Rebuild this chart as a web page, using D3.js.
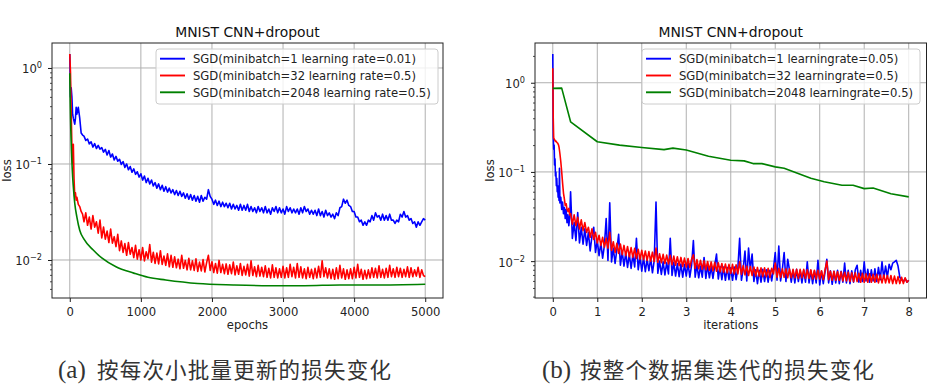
<!doctype html>
<html lang="zh">
<head>
<meta charset="utf-8">
<title>MNIST CNN+dropout loss curves</title>
<style>
  body { margin: 0; background: #fff; }
  svg { display: block; font-family: "DejaVu Sans", sans-serif; }
  .caption-tag { font-family: "Liberation Serif", serif; }
  .caption-zh { font-family: "Noto Sans CJK SC", sans-serif; }
</style>
</head>
<body>
<svg id="chart" width="934" height="391"></svg>
<script src="https://cdn.jsdelivr.net/npm/d3@7"></script>
<script>
// ---- panel (a): loss per minibatch update ----
const epochsHead = [0, 10, 20, 30, 40, 50, 60, 70, 80, 90, 100, 120, 140, 160, 180]
const epochsA = epochsHead.concat(d3.range(200, 5001, 25))

const lossA_mb1 = [
  1.4, 0.5, 0.62, 0.5, 0.33, 0.3, 0.28, 0.26, 0.3, 0.39, 0.33, 0.39, 0.3, 0.21, 0.2,
  0.195, 0.176, 0.182, 0.162, 0.170, 0.150, 0.163, 0.145, 0.156, 0.143,
  0.148, 0.133, 0.142, 0.124, 0.138, 0.118, 0.127, 0.110, 0.120, 0.107,
  0.112, 0.099, 0.106, 0.092, 0.100, 0.087, 0.094, 0.082, 0.089, 0.078,
  0.083, 0.073, 0.079, 0.068, 0.075, 0.064, 0.071, 0.062, 0.068, 0.059,
  0.064, 0.056, 0.062, 0.054, 0.060, 0.052, 0.058, 0.051, 0.056, 0.050,
  0.054, 0.048, 0.053, 0.047, 0.052, 0.046, 0.050, 0.044, 0.049, 0.043,
  0.048, 0.042, 0.047, 0.041, 0.046, 0.040, 0.047, 0.041, 0.045, 0.043,
  0.054, 0.046, 0.043, 0.038, 0.042, 0.037, 0.041, 0.036, 0.040, 0.036,
  0.039, 0.035, 0.039, 0.034, 0.038, 0.034, 0.037, 0.033, 0.038, 0.033,
  0.037, 0.033, 0.038, 0.032, 0.036, 0.032, 0.035, 0.031, 0.036, 0.032,
  0.035, 0.031, 0.036, 0.031, 0.034, 0.030, 0.035, 0.032, 0.036, 0.031,
  0.035, 0.031, 0.034, 0.030, 0.036, 0.032, 0.035, 0.031, 0.034, 0.031,
  0.034, 0.030, 0.035, 0.031, 0.036, 0.032, 0.034, 0.030, 0.033, 0.030,
  0.033, 0.029, 0.034, 0.029, 0.032, 0.028, 0.033, 0.029, 0.031, 0.028,
  0.030, 0.027, 0.031, 0.029, 0.035, 0.036, 0.043, 0.039, 0.042, 0.037,
  0.036, 0.032, 0.032, 0.028, 0.028, 0.025, 0.026, 0.023, 0.025, 0.023,
  0.026, 0.025, 0.029, 0.026, 0.031, 0.028, 0.029, 0.026, 0.030, 0.026,
  0.029, 0.026, 0.030, 0.026, 0.026, 0.024, 0.026, 0.025, 0.030, 0.028,
  0.032, 0.028, 0.029, 0.026, 0.027, 0.024, 0.025, 0.022, 0.025, 0.023,
  0.025, 0.027, 0.026
]

const lossA_mb32 = [
  1.4, 0.9, 0.35, 0.15, 0.1, 0.16, 0.07, 0.046, 0.05, 0.042, 0.045, 0.038, 0.036, 0.032, 0.03,
  0.025, 0.031, 0.023, 0.028, 0.021, 0.029, 0.022, 0.025, 0.019, 0.026,
  0.017, 0.022, 0.0165, 0.020, 0.0152, 0.021, 0.0150, 0.0175, 0.0138, 0.0185,
  0.0125, 0.0158, 0.0120, 0.0148, 0.0112, 0.0152, 0.0115, 0.0135, 0.0106, 0.0142,
  0.0102, 0.0128, 0.0100, 0.0135, 0.0098, 0.0122, 0.0103, 0.0145, 0.0095, 0.0120,
  0.0092, 0.0118, 0.0091, 0.0125, 0.0090, 0.0110, 0.0088, 0.0116, 0.0085, 0.0112,
  0.0084, 0.0108, 0.0083, 0.0102, 0.0081, 0.0112, 0.0082, 0.0099, 0.0079, 0.0104,
  0.0079, 0.0098, 0.0078, 0.0103, 0.0076, 0.0095, 0.0077, 0.0101, 0.0075, 0.0094,
  0.0112, 0.0078, 0.0096, 0.0074, 0.0092, 0.0073, 0.0099, 0.0074, 0.0090, 0.0072,
  0.0091, 0.0071, 0.0089, 0.0072, 0.0095, 0.0070, 0.0087, 0.0071, 0.0092, 0.0069,
  0.0086, 0.0070, 0.0090, 0.0068, 0.0098, 0.0069, 0.0085, 0.0067, 0.0088, 0.0068,
  0.0084, 0.0067, 0.0087, 0.0066, 0.0082, 0.0065, 0.0089, 0.0066, 0.0083, 0.0065,
  0.0081, 0.0066, 0.0086, 0.0065, 0.0083, 0.0066, 0.0090, 0.0067, 0.0084, 0.0065,
  0.0092, 0.0066, 0.0085, 0.0065, 0.0081, 0.0064, 0.0084, 0.0066, 0.0080, 0.0064,
  0.0082, 0.0065, 0.0086, 0.0066, 0.0098, 0.0067, 0.0083, 0.0065, 0.0081, 0.0064,
  0.0080, 0.0063, 0.0083, 0.0064, 0.0088, 0.0065, 0.0081, 0.0063, 0.0079, 0.0064,
  0.0081, 0.0064, 0.0084, 0.0065, 0.0090, 0.0066, 0.0080, 0.0063, 0.0078, 0.0064,
  0.0079, 0.0065, 0.0083, 0.0066, 0.0082, 0.0065, 0.0087, 0.0066, 0.0080, 0.0065,
  0.0082, 0.0066, 0.0088, 0.0067, 0.0081, 0.0066, 0.0084, 0.0067, 0.0082, 0.0066,
  0.0080, 0.0067, 0.0085, 0.0066, 0.0083, 0.0067, 0.0079, 0.0068, 0.0084, 0.0066,
  0.0079, 0.0069, 0.0067
]

const epochsA_mb2048 = [0, 5, 10, 15, 25, 35, 50, 70, 100, 140, 200, 330, 450, 650, 900,
  1100, 1350, 1800, 2300, 2800, 3300, 3800, 4300, 5000]
const lossA_mb2048 = [0.88, 0.5, 0.32, 0.22, 0.13, 0.087, 0.058, 0.039, 0.028, 0.0204,
  0.0165, 0.0127, 0.0105, 0.0085, 0.0073, 0.0066, 0.0062, 0.0057, 0.0055, 0.0054,
  0.0054, 0.0055, 0.0055, 0.0056]

// ---- panel (b): loss per pass over the dataset ----
const itersHead = [0, 0.01, 0.02, 0.03, 0.04, 0.05, 0.06, 0.07, 0.08, 0.09, 0.1, 0.11, 0.12, 0.13,
  0.14, 0.15, 0.16, 0.18, 0.2, 0.22, 0.24, 0.26, 0.28, 0.3, 0.32, 0.34, 0.36, 0.38]
const itersB = itersHead.concat(d3.range(0.4, 8.0001, 0.04))

const lossB_mb1 = [
  2.1, 0.25, 0.18, 0.2, 0.12, 0.14, 0.09, 0.1, 0.07, 0.085, 0.06, 0.07, 0.052, 0.062,
  0.048, 0.11, 0.045, 0.052, 0.038, 0.046, 0.034, 0.04, 0.03, 0.038, 0.027, 0.033, 0.025, 0.031,
  0.060, 0.018, 0.027, 0.017, 0.035, 0.016, 0.024, 0.0155, 0.023, 0.015,
  0.021, 0.013, 0.019, 0.024, 0.0125, 0.017, 0.0115, 0.016, 0.0108, 0.015,
  0.030, 0.0102, 0.045, 0.0098, 0.014, 0.0094, 0.0135, 0.020, 0.0090, 0.0128,
  0.0088, 0.0125, 0.0085, 0.0120, 0.0083, 0.0118, 0.0086, 0.018, 0.0080, 0.0112,
  0.0077, 0.0110, 0.0076, 0.0105, 0.0078, 0.0108, 0.0074, 0.0102, 0.046, 0.0073,
  0.0100, 0.0071, 0.0098, 0.0070, 0.0096, 0.0072, 0.018, 0.0069, 0.0097, 0.0068,
  0.0094, 0.0067, 0.0093, 0.0066, 0.0092, 0.0068, 0.0095, 0.0066, 0.0090, 0.017,
  0.0066, 0.0091, 0.0065, 0.0088, 0.0066, 0.011, 0.0064, 0.0090, 0.0065, 0.0087,
  0.0064, 0.0089, 0.012, 0.0063, 0.0087, 0.0062, 0.0086, 0.0061, 0.0085, 0.0062,
  0.0084, 0.0061, 0.0086, 0.0062, 0.0083, 0.018, 0.0061, 0.0082, 0.013, 0.0060,
  0.014, 0.0080, 0.012, 0.0059, 0.0080, 0.0056, 0.0079, 0.0058, 0.0081, 0.0059,
  0.0080, 0.0058, 0.0079, 0.0060, 0.0082, 0.0125, 0.0061, 0.0148, 0.0060, 0.0081,
  0.0125, 0.0059, 0.0105, 0.0080, 0.0058, 0.0079, 0.0057, 0.0081, 0.0059, 0.0078,
  0.0057, 0.0079, 0.0058, 0.0098, 0.0057, 0.0078, 0.0056, 0.0077, 0.0057, 0.0102,
  0.0054, 0.0077, 0.0056, 0.0076, 0.0105, 0.0057, 0.0078, 0.0055, 0.0077, 0.0057,
  0.0079, 0.0056, 0.0077, 0.0058, 0.0095, 0.0057, 0.0079, 0.0056, 0.0078, 0.0058,
  0.0080, 0.0090, 0.0058, 0.0079, 0.0059, 0.0098, 0.0060, 0.0081, 0.0058, 0.0080,
  0.0060, 0.0082, 0.0059, 0.0085, 0.0062, 0.0098, 0.0064, 0.0088, 0.0066, 0.0092,
  0.0080, 0.0095, 0.0098, 0.0102, 0.0088, 0.0066, 0.0062, 0.0059, 0.0064, 0.0058,
  0.0061
]

const lossB_mb32 = [
  1.45, 0.4, 0.24, 0.235, 0.23, 0.225, 0.22, 0.222, 0.218, 0.215, 0.212, 0.21, 0.205, 0.2,
  0.19, 0.175, 0.16, 0.13, 0.10, 0.075, 0.058, 0.05, 0.042, 0.044, 0.038, 0.036, 0.039, 0.033,
  0.034, 0.026, 0.033, 0.025, 0.031, 0.023, 0.029, 0.022, 0.027, 0.021,
  0.024, 0.0185, 0.023, 0.0175, 0.021, 0.0160, 0.0195, 0.0150, 0.0185, 0.0143,
  0.018, 0.0140, 0.021, 0.0132, 0.0165, 0.0125, 0.0158, 0.0122, 0.0155, 0.0118,
  0.0150, 0.0115, 0.0146, 0.0112, 0.0142, 0.0110, 0.0139, 0.0107, 0.0136, 0.0105,
  0.0132, 0.0104, 0.0130, 0.0102, 0.0128, 0.0100, 0.0126, 0.0099, 0.0140, 0.0097,
  0.0121, 0.0096, 0.0119, 0.0094, 0.0117, 0.0093, 0.0116, 0.0091, 0.0114, 0.0090,
  0.0112, 0.0089, 0.0110, 0.0087, 0.0108, 0.0086, 0.0107, 0.0085, 0.0105, 0.0118,
  0.0083, 0.0104, 0.0082, 0.0102, 0.0081, 0.0101, 0.0080, 0.0099, 0.0079, 0.0098,
  0.0078, 0.0097, 0.0077, 0.0096, 0.0076, 0.0094, 0.0075, 0.0093, 0.0074, 0.0092,
  0.0073, 0.0092, 0.0072, 0.0091, 0.0072, 0.0098, 0.0071, 0.0089, 0.0070, 0.0088,
  0.0069, 0.0087, 0.0069, 0.0086, 0.0068, 0.0085, 0.0068, 0.0084, 0.0067, 0.0084,
  0.0067, 0.0083, 0.0066, 0.0083, 0.0072, 0.0095, 0.0066, 0.0083, 0.0066, 0.0082,
  0.0066, 0.0082, 0.0065, 0.0082, 0.0065, 0.0081, 0.0065, 0.0081, 0.0064, 0.0081,
  0.0065, 0.0081, 0.0064, 0.0080, 0.0064, 0.0080, 0.0063, 0.0079, 0.0063, 0.0079,
  0.0063, 0.0078, 0.0062, 0.0080, 0.0100, 0.0062, 0.0077, 0.0061, 0.0077, 0.0061,
  0.0076, 0.0061, 0.0076, 0.0060, 0.0075, 0.0060, 0.0075, 0.0059, 0.0074, 0.0059,
  0.0074, 0.0059, 0.0073, 0.0058, 0.0073, 0.0058, 0.0072, 0.0058, 0.0072, 0.0058,
  0.0071, 0.0058, 0.0071, 0.0057, 0.0070, 0.0057, 0.0070, 0.0057, 0.0069, 0.0057,
  0.0069, 0.0056, 0.0068, 0.0056, 0.0067, 0.0056, 0.0066, 0.0056, 0.0065, 0.0058,
  0.0061
]

const itersB_mb2048 = [0, 0.2, 0.4, 1.0, 1.5, 2.0, 2.5, 2.7, 3.0, 3.5, 4.0, 4.3, 4.5, 4.7,
  5.0, 5.2, 5.8, 6.1, 6.5, 6.75, 7.0, 7.2, 7.6, 8.0]
const lossB_mb2048 = [0.865, 0.87, 0.365, 0.218, 0.2, 0.188, 0.178, 0.185, 0.176, 0.15,
  0.135, 0.133, 0.124, 0.124, 0.114, 0.11, 0.085, 0.0775, 0.071, 0.071, 0.065, 0.066,
  0.057, 0.0525]

const legendA = ['SGD(minibatch=1 learning rate=0.01)', 'SGD(minibatch=32 learning rate=0.5)', 'SGD(minibatch=2048 learning rate=0.5)']
const legendB = ['SGD(minibatch=1 learningrate=0.05)', 'SGD(minibatch=32 learningrate=0.5)', 'SGD(minibatch=2048 learningrate=0.5)']
const seriesColors = ['#0000ff', '#ff0000', '#008000']
const title = 'MNIST CNN+dropout'
const xTicksA = [0, 1000, 2000, 3000, 4000, 5000]
const xTicksB = [0, 1, 2, 3, 4, 5, 6, 7, 8]
const yMajor = [1, 0.1, 0.01]
const yMajorLabels = ['0', '\u22121', '\u22122']
const captionTags = ['(a)', '(b)']
const captionTexts = ['按每次小批量更新的损失变化', '按整个数据集迭代的损失变化']

const svg = d3.select('#chart')

function panel(cfg) {
  const g = svg.append('g')
  const x = d3.scaleLinear().domain(cfg.xDomain).range([cfg.left, cfg.right])
  const y = d3.scaleLog().domain(cfg.yDomain).range([cfg.bottom, cfg.top])

  const clipId = 'clip-' + cfg.id
  svg.append('clipPath').attr('id', clipId)
    .append('rect')
      .attr('x', cfg.left).attr('y', cfg.top)
      .attr('width', cfg.right - cfg.left).attr('height', cfg.bottom - cfg.top)

  // grid
  g.append('g').selectAll('line').data(cfg.xTicks).join('line')
    .attr('x1', d => x(d)).attr('x2', d => x(d))
    .attr('y1', cfg.top).attr('y2', cfg.bottom)
    .attr('stroke', '#b0b0b0').attr('stroke-width', 1)
  g.append('g').selectAll('line').data(yMajor).join('line')
    .attr('x1', cfg.left).attr('x2', cfg.right)
    .attr('y1', d => y(d)).attr('y2', d => y(d))
    .attr('stroke', '#b0b0b0').attr('stroke-width', 1)

  // lines
  const lines = g.append('g').attr('clip-path', `url(#${clipId})`)
  cfg.series.forEach((s, k) => {
    const line = d3.line()
      .x((d, i) => x(s.xs[i]))
      .y(d => y(d))
      .curve(s.curve || d3.curveLinear)
    lines.append('path')
      .datum(s.ys)
      .attr('d', line)
      .attr('fill', 'none')
      .attr('stroke', seriesColors[k])
      .attr('stroke-width', 1.6)
      .attr('stroke-linejoin', 'round')
  })

  // x axis
  const xAxis = d3.axisBottom(x).tickValues(cfg.xTicks).tickSize(4).tickPadding(6)
    .tickFormat(d3.format('d'))
  const xg = g.append('g').attr('transform', `translate(0,${cfg.bottom})`).call(xAxis)
  xg.select('.domain').remove()
  xg.selectAll('line').attr('stroke', '#000').attr('stroke-width', 0.9)
  xg.selectAll('text').attr('font-family', 'DejaVu Sans').attr('font-size', 11.6).attr('fill', '#222')

  // y axis major + minor ticks
  const yAxis = d3.axisLeft(y).tickValues(yMajor).tickSize(4).tickFormat('')
  const yg = g.append('g').attr('transform', `translate(${cfg.left},0)`).call(yAxis)
  yg.select('.domain').remove()
  yg.selectAll('line').attr('stroke', '#000').attr('stroke-width', 0.9)

  const minor = y.ticks().filter(d => Math.abs(Math.log10(d) - Math.round(Math.log10(d))) > 1e-6)
  const ym = g.append('g').attr('transform', `translate(${cfg.left},0)`)
    .call(d3.axisLeft(y).tickValues(minor).tickSize(2).tickFormat(''))
  ym.select('.domain').remove()
  ym.selectAll('line').attr('stroke', '#000').attr('stroke-width', 0.7)

  const lab = g.append('g').selectAll('text').data(yMajor).join('text')
    .attr('x', cfg.left - 10)
    .attr('y', d => y(d) + 5.5)
    .attr('text-anchor', 'end')
    .attr('font-size', 11.6)
    .attr('fill', '#222')
  lab.append('tspan').text('10')
  lab.append('tspan').attr('dy', -5).attr('font-size', 8.2).text((d, i) => yMajorLabels[i])

  // frame
  g.append('rect')
    .attr('x', cfg.left).attr('y', cfg.top)
    .attr('width', cfg.right - cfg.left).attr('height', cfg.bottom - cfg.top)
    .attr('fill', 'none').attr('stroke', '#222').attr('stroke-width', 1)

  // title & axis labels
  g.append('text')
    .attr('x', (cfg.left + cfg.right) / 2).attr('y', 36.5)
    .attr('text-anchor', 'middle').attr('font-size', 13.9).attr('fill', '#111')
    .text(title)
  g.append('text')
    .attr('x', (cfg.left + cfg.right) / 2).attr('y', 329)
    .attr('text-anchor', 'middle').attr('font-size', 11.6).attr('fill', '#222')
    .text(cfg.xLabel)
  g.append('text')
    .attr('transform', `translate(${cfg.yLabelX},${(cfg.top + cfg.bottom) / 2}) rotate(-90)`)
    .attr('text-anchor', 'middle').attr('font-size', 11.6).attr('fill', '#222')
    .text('loss')

  // legend
  const lg = g.append('g')
  lg.append('rect')
    .attr('x', cfg.legendX).attr('y', cfg.top + 6)
    .attr('width', cfg.legendW).attr('height', 55)
    .attr('rx', 3)
    .attr('fill', '#fff').attr('fill-opacity', 0.8)
    .attr('stroke', '#cccccc').attr('stroke-width', 1)
  cfg.legend.forEach((label, k) => {
    const cy = cfg.top + 15.7 + k * 16.8
    lg.append('line')
      .attr('x1', cfg.legendX + 4).attr('x2', cfg.legendX + 29)
      .attr('y1', cy).attr('y2', cy)
      .attr('stroke', seriesColors[k]).attr('stroke-width', 1.9)
    lg.append('text')
      .attr('x', cfg.legendX + 37).attr('y', cy + 4.4)
      .attr('font-size', 11.6).attr('fill', '#222')
      .text(label)
  })
}

panel({
  id: 'a', left: 52, right: 443, top: 43, bottom: 298,
  xDomain: [-250, 5250], yDomain: [0.00402, 1.82],
  xTicks: xTicksA, xLabel: 'epochs', yLabelX: 10.5,
  legend: legendA, legendX: 156, legendW: 282,
  series: [
    { xs: epochsA, ys: lossA_mb1 },
    { xs: epochsA, ys: lossA_mb32 },
    { xs: epochsA_mb2048, ys: lossA_mb2048, curve: d3.curveMonotoneX }
  ]
})

panel({
  id: 'b', left: 535, right: 926.5, top: 43, bottom: 298,
  xDomain: [-0.4, 8.4], yDomain: [0.00386, 2.79],
  xTicks: xTicksB, xLabel: 'iterations', yLabelX: 493.5,
  legend: legendB, legendX: 642, legendW: 278,
  series: [
    { xs: itersB, ys: lossB_mb1 },
    { xs: itersB, ys: lossB_mb32 },
    { xs: itersB_mb2048, ys: lossB_mb2048 }
  ]
})

// captions
const capX = [58, 542]
const capZhX = [97, 580]
captionTags.forEach((tag, i) => {
  svg.append('text').attr('class', 'caption-tag')
    .attr('x', capX[i]).attr('y', 378)
    .attr('font-size', 25).attr('fill', '#333')
    .text(tag)
  svg.append('text').attr('class', 'caption-zh')
    .attr('x', capZhX[i]).attr('y', 378)
    .attr('font-size', 21.5).attr('letter-spacing', 1.2).attr('fill', '#333')
    .text(captionTexts[i])
})
</script>
</body>
</html>
